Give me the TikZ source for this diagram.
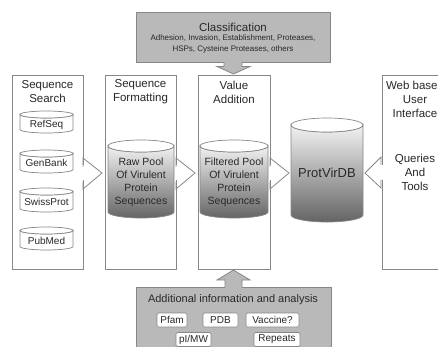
\documentclass[tikz,border=0pt]{standalone}
\usepackage{fontspec}
\setmainfont{Liberation Sans}
\definecolor{edge}{RGB}{135,135,135}
\definecolor{panel}{RGB}{185,185,185}
\definecolor{txt}{RGB}{40,40,40}
\definecolor{cyldark}{RGB}{100,100,100}
\definecolor{cyllight}{RGB}{242,242,242}
\newcommand\drawcyl[6]{%
  \pgfmathsetmacro\cylrx{(#2-#1)/2}%
  \pgfmathsetmacro\cylcx{(#1+#2)/2}%
  \path[#6] (#1,#3) -- (#1,#4) arc[start angle=180,end angle=360,x radius=\cylrx pt,y radius=#5pt]
     -- (#2,#3) arc[start angle=0,end angle=-180,x radius=\cylrx pt,y radius=#5pt] -- cycle;
  \path[cyltop] (\cylcx,#3) ellipse[x radius=\cylrx pt,y radius=#5pt];
}
\begin{document}
\begin{tikzpicture}[x=1pt,y=-1pt,
  every node/.style={text=txt, inner sep=0pt, align=center},
  colbox/.style={draw=edge, fill=white, line width=0.8pt, anchor=north west, minimum height=194pt},
  graybox/.style={draw=edge, fill=panel, line width=0.8pt, anchor=north west},
  chev/.style={draw=edge, line width=0.8pt},
  cyltop/.style={draw=edge, fill=white, line width=0.7pt},
  smallcyl/.style={draw=edge, fill=white, line width=0.7pt},
  bigcyl/.style={draw=edge, line width=0.7pt, top color=cyllight, bottom color=cyldark},
  tag/.style={draw=edge, fill=white, rounded corners=1.5pt, line width=0.6pt, font=\fontsize{10}{12}\selectfont, minimum height=14pt},
  title/.style={font=\fontsize{11.5}{14}\selectfont},
  dbtext/.style={font=\fontsize{10}{12}\selectfont},
  pooltext/.style={font=\fontsize{10.5}{13}\selectfont},
  subtext/.style={font=\fontsize{8}{11}\selectfont}]
\useasboundingbox (0,0) rectangle (438,346);
\clip (0,0) rectangle (438,346);

% column boxes
\node[colbox, minimum width=71pt] (search) at (12,75) {};
\node[colbox, minimum width=71pt] (format) at (105,75) {};
\node[colbox, minimum width=72pt] (value) at (198,75) {};
\node[colbox, minimum width=72pt] (web) at (382,75) {};

% top and bottom panels
\node[graybox, minimum width=194pt, minimum height=50pt] (class) at (136,12) {};
\node[graybox, minimum width=195pt, minimum height=65pt] (addl) at (136,287) {};

% titles
\node[title] (tsearch) at (47.5,92) {Sequence\\Search};
\node[title] (tformat) at (140.5,92) {Sequence\\Formatting};
\node[title] (tvalue) at (234,92) {Value\\Addition};
\node[title] (tweb) at (415,99) {Web based\\User\\Interface};
\node[title] (tquery) at (415,172.5) {Queries\\And\\Tools};
\node[title] (tclass) at (233,27) {Classification};
\node[subtext] (tclasssub) at (233,43.5) {Adhesion, Invasion, Establishment, Proteases,\\HSPs, Cysteine Proteases, others};
\node[title, font=\fontsize{11}{14}\selectfont] (taddl) at (233,300) {Additional information and analysis};

% small databases
\drawcyl{20}{73}{114.5}{129.5}{3.5}{smallcyl}
\node[dbtext] (refseq) at (46.5,124.5) {RefSeq};
\drawcyl{20}{73}{153.5}{169.5}{3.5}{smallcyl}
\node[dbtext] (genbank) at (46.5,163) {GenBank};
\drawcyl{20}{73}{191.5}{208.5}{3.5}{smallcyl}
\node[dbtext] (swissprot) at (46.5,201.5) {SwissProt};
\drawcyl{20}{73}{230.5}{246.5}{3.5}{smallcyl}
\node[dbtext] (pubmed) at (46.5,240.5) {PubMed};

% big cylinders
\drawcyl{108}{174}{146}{212}{6}{bigcyl}
\node[pooltext] (raw) at (141,182.5) {Raw Pool\\Of Virulent\\Protein\\Sequences};
\drawcyl{200}{268}{146}{212}{6}{bigcyl}
\node[pooltext] (filtered) at (234,182.5) {Filtered Pool\\Of Virulent\\Protein\\Sequences};
\drawcyl{291}{363}{125}{215}{7}{bigcyl}
\node[font=\fontsize{13}{15}\selectfont] (db) at (327,173) {ProtVirDB};

% chevron connectors
\coordinate (a1) at (83,173);
\coordinate (a2) at (176,173);
\coordinate (a3) at (270,173);
\coordinate (a4) at (382,173);
\foreach \c in {a1,a2,a3} {
  \fill[white] ([shift={(-1.5,-8.5)}]\c) rectangle ([shift={(1.5,6.5)}]\c);
  \draw[chev] ([yshift=-8.5]\c) -- ([yshift=-16]\c) -- ([shift={(19,0)}]\c) -- ([yshift=15]\c) -- ([yshift=6.5]\c);
}
\fill[white] ([shift={(-1.5,-8.5)}]a4) rectangle ([shift={(1.5,6.5)}]a4);
\draw[chev] ([shift={(-1,-8.5)}]a4) -- ([shift={(-1,-16)}]a4) -- ([shift={(-17,0)}]a4) -- ([shift={(-1,15)}]a4) -- ([shift={(-1,6.5)}]a4);

% vertical block arrows
\fill[panel] (224,61.5) rectangle (242,67);
\draw[chev, fill=panel] (224,62.4) -- (224,66.5) -- (217,66.5) -- (233.5,74) -- (250,66.5) -- (242,66.5) -- (242,62.4);
\fill[panel] (225,279) rectangle (242,288);
\draw[chev, fill=panel] (225,287.4) -- (225,280) -- (217,280) -- (233.5,270) -- (250,280) -- (242,280) -- (242,287.4);

% analysis tags
\node[tag, minimum width=30pt] (pfam) at (172,320) {Pfam};
\node[tag, minimum width=35pt] (pdb) at (220.5,320) {PDB};
\node[tag, minimum width=53pt] (vacc) at (272.5,320) {Vaccine?};
\node[tag, minimum width=35pt] (pimw) at (193.5,339.5) {pI/MW};
\node[tag, minimum width=46pt] (rep) at (277,339.5) {Repeats};
\end{tikzpicture}
\end{document}
